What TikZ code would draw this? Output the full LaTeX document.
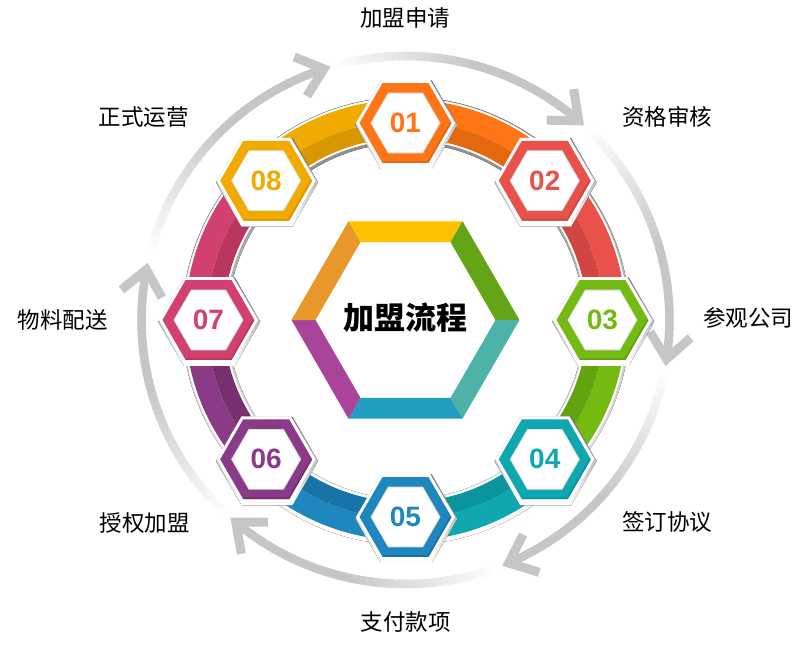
\documentclass[tikz,border=0pt]{standalone}
\usepackage{fontspec}
\setmainfont{Liberation Sans}
\newfontfamily\cjk{Noto Sans CJK SC}
\usetikzlibrary{calc}
\definecolor{c1}{HTML}{FF7516}\definecolor{c1d}{HTML}{E4680E}
\definecolor{c2}{HTML}{E9524A}\definecolor{c2d}{HTML}{D14640}
\definecolor{c3}{HTML}{74BA13}\definecolor{c3d}{HTML}{62A40F}
\definecolor{c4}{HTML}{0FA7B0}\definecolor{c4d}{HTML}{0A949D}
\definecolor{c5}{HTML}{1D87BE}\definecolor{c5d}{HTML}{1674A8}
\definecolor{c6}{HTML}{8B3A88}\definecolor{c6d}{HTML}{76306F}
\definecolor{c7}{HTML}{D2406F}\definecolor{c7d}{HTML}{B9375F}
\definecolor{c8}{HTML}{F1AA00}\definecolor{c8d}{HTML}{D99800}
\definecolor{hT}{HTML}{FFC000}
\definecolor{hTR}{HTML}{63A516}
\definecolor{hBR}{HTML}{4DB3A9}
\definecolor{hB}{HTML}{1F9EC2}
\definecolor{hBL}{HTML}{A9449A}
\definecolor{hTL}{HTML}{E8972A}
\definecolor{arcgrey}{HTML}{C6C6C6}
\definecolor{shade}{HTML}{DADADA}
\tikzset{
  numtext/.style={font=\bfseries\fontsize{28}{30}\selectfont, inner sep=0pt},
  labtext/.style={font=\cjk\fontsize{22.5}{24}\selectfont, text=black, inner sep=0pt},
  centertext/.style={font=\cjk\bfseries\fontsize{31}{33}\selectfont, text=black, inner sep=0pt}
}
\begin{document}
\begin{tikzpicture}[x=1pt,y=1pt]
\useasboundingbox[fill=white] (-405.5,-342) rectangle (400.5,320);
% grey circular arrows
\foreach \s/\e in {165/108, 106/49, 46/-8.5, -11.5/-67, -70/-130, -133/-191} {
  \foreach \j in {0,...,39} {
    \pgfmathsetmacro\aa{\s+(\e-\s)*\j/40}
    \pgfmathsetmacro\bb{max(\e,\s+(\e-\s)*(\j+1.4)/40)}
    \pgfmathsetmacro\tt{min(100,100*(\j+0.5)/40/0.55)}
    \draw[line width=8.5pt, arcgrey!\tt!white] (\aa:264pt) arc[start angle=\aa, end angle=\bb, radius=264pt];
  }
}
\foreach \t [count=\k] in {108,49,-8.5,-67,-130,-191} {
  \coordinate (tip\k) at (\t:264pt);
  \draw[line width=9pt, arcgrey, line join=miter] ($(tip\k)+(\t+50:32pt)$) -- (tip\k) -- ($(tip\k)+(\t+130:32pt)$);
}
% ring shadow and border
\fill[shade, even odd rule] (0.5,-1) circle (224pt) (0.5,-1) circle (178pt);
\fill[white, even odd rule] (0,0) circle (222.5pt) (0,0) circle (180pt);
% ring segments
\foreach \i/\cl/\cd in {1/c1/c1d,2/c2/c2d,3/c3/c3d,4/c4/c4d,5/c5/c5d,6/c6/c6d,7/c7/c7d,8/c8/c8d} {
  \pgfmathsetmacro\sa{90-45*(\i-1)}
  \pgfmathsetmacro\ea{\sa-45}
  \fill[\cl] (\sa:220.5pt) arc[start angle=\sa, end angle=\ea, radius=220.5pt] -- (\ea:199pt) arc[start angle=\ea, end angle=\sa, radius=199pt] -- cycle;
  \fill[\cd] (\sa:199pt) arc[start angle=\sa, end angle=\ea, radius=199pt] -- (\ea:182pt) arc[start angle=\ea, end angle=\sa, radius=182pt] -- cycle;
}
% hexagon badges
\foreach \i/\cl/\cd in {1/c1/c1d,2/c2/c2d,3/c3/c3d,4/c4/c4d,5/c5/c5d,6/c6/c6d,7/c7/c7d,8/c8/c8d} {
  \pgfmathsetmacro\ang{90-45*(\i-1)}
  \begin{scope}[shift={(\ang:197pt)}]
    \fill[shade] ($(0:51pt)+(0.8,-1.8)$) -- ($(60:51pt)+(0.8,-1.8)$) -- ($(120:51pt)+(0.8,-1.8)$) -- ($(180:51pt)+(0.8,-1.8)$) -- ($(240:51pt)+(0.8,-1.8)$) -- ($(300:51pt)+(0.8,-1.8)$) -- cycle;
    \fill[white] (0:49.5pt) -- (60:49.5pt) -- (120:49.5pt) -- (180:49.5pt) -- (240:49.5pt) -- (300:49.5pt) -- cycle;
    \fill[\cl] (0:46pt) -- (60:46pt) -- (120:46pt) -- (180:46pt) -- (240:46pt) -- (300:46pt) -- cycle;
    \fill[\cd] (0:46pt) -- (300:46pt) -- (240:46pt) -- (240:44pt) -- (300:44pt) -- (0:44pt) -- cycle;
    \fill[white, draw=black!12, line width=0.8pt] (0:34.5pt) -- (60:34.5pt) -- (120:34.5pt) -- (180:34.5pt) -- (240:34.5pt) -- (300:34.5pt) -- cycle;
  \end{scope}
  \node[numtext, text=\cl] (h\i) at (\ang:197pt) {0\i};
}
% central hexagon frame
\foreach \a/\cl in {60/hT, 0/hTR, -60/hBR, -120/hB, -180/hBL, 120/hTL} {
  \fill[\cl] (\a:114pt) -- (\a+60:114pt) -- (\a+60:90pt) -- (\a:90pt) -- cycle;
}
\node[centertext] (ctr) at (0.5,2) {加盟流程};
% labels
\node[labtext] (l1) at (0,302) {加盟申请};
\node[labtext] (l2) at (261.5,203) {资格审核};
\node[labtext] (l3) at (342.5,2) {参观公司};
\node[labtext] (l4) at (261.5,-202) {签订协议};
\node[labtext] (l5) at (0.5,-302) {支付款项};
\node[labtext] (l6) at (-260.5,-203) {授权加盟};
\node[labtext] (l7) at (-342.5,0) {物料配送};
\node[labtext] (l8) at (-261.5,203) {正式运营};
\end{tikzpicture}
\end{document}
